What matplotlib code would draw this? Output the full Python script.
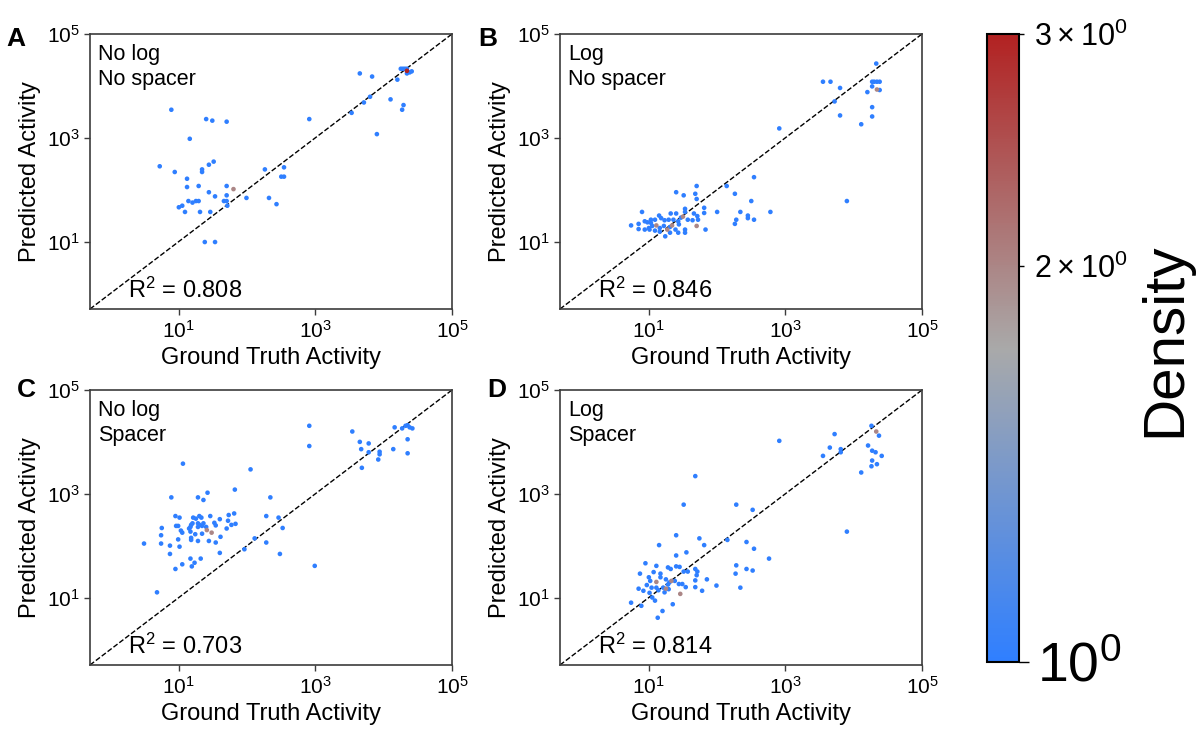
import numpy as np
import matplotlib
matplotlib.use('Agg')
import matplotlib.pyplot as plt
from matplotlib.colors import LinearSegmentedColormap, LogNorm
from matplotlib.ticker import FixedLocator, FixedFormatter, NullLocator

plt.rcParams['font.family'] = ['Liberation Sans', 'DejaVu Sans']
plt.rcParams['mathtext.fontset'] = 'custom'
plt.rcParams['mathtext.rm'] = 'Liberation Sans'
plt.rcParams['mathtext.default'] = 'regular'

# valores (log10 de la actividad)
gt_a = [3.65, 3.83, 4.20, 4.25, 4.28, 4.31, 4.34, 4.34, 4.34, 4.38, 4.41, 3.80, 3.71, 3.53, 4.10,
        4.29, 4.27, 3.90, 2.91, 0.89, 1.40, 1.49, 1.70, 1.16, 0.72, 0.94, 1.34, 1.34, 1.44, 1.51,
        1.12, 1.29, 1.12, 1.70, 1.44, 1.80, 1.53, 1.70, 1.14, 1.20, 1.25, 1.29, 1.66, 1.70, 1.71,
        1.00, 1.05, 1.09, 1.31, 1.46, 1.38, 1.53, 1.99, 2.26, 2.32, 2.43, 2.54, 2.50, 2.54]
pred_a = [4.24, 4.18, 4.12, 4.33, 4.33, 4.33, 4.33, 4.29, 4.24, 4.26, 4.28, 3.79, 3.68, 3.48, 3.74,
          3.63, 3.54, 3.07, 3.36, 3.54, 3.36, 3.33, 3.31, 2.98, 2.45, 2.34, 2.39, 2.34, 2.48, 2.54,
          2.21, 2.07, 2.05, 2.07, 1.95, 2.01, 1.87, 1.89, 1.78, 1.75, 1.78, 1.78, 1.78, 1.78, 1.69,
          1.66, 1.69, 1.57, 1.57, 1.57, 0.99, 0.99, 1.84, 2.39, 1.84, 1.72, 2.43, 2.25, 2.25]
dens_a = {7: 3.0, 35: 2.0}

gt_b = [4.33, 3.55, 3.66, 3.80, 4.27, 4.30, 4.34, 4.38, 4.27, 4.20, 4.34, 4.38, 3.72, 4.27, 3.80,
        4.27, 4.11, 2.91, 3.90, 2.54, 2.14, 2.26, 2.50, 2.78, 2.00, 2.34, 2.45, 2.45, 2.54, 2.28,
        2.26, 1.70, 1.40, 1.51, 1.68, 1.70, 1.81, 1.81, 1.53, 1.53, 0.90, 1.32, 1.40, 1.66, 1.71,
        0.74, 0.85, 0.94, 0.98, 1.03, 1.09, 1.15, 1.18, 1.23, 1.29, 1.36, 1.43, 1.47, 1.57, 1.64,
        1.72, 0.85, 0.94, 1.00, 1.05, 1.11, 1.16, 1.22, 1.27, 1.31, 1.34, 1.39, 1.44, 1.50, 1.53,
        1.70, 1.83, 1.16, 1.24, 1.31, 1.43, 1.53, 1.01, 1.09, 1.03]
pred_b = [4.43, 4.08, 4.08, 3.96, 4.08, 4.08, 4.08, 4.08, 3.99, 3.88, 3.93, 3.92, 3.70, 3.59, 3.43,
          3.41, 3.26, 3.18, 1.78, 2.24, 2.07, 1.92, 1.78, 1.57, 1.57, 1.57, 1.50, 1.45, 1.42, 1.42,
          1.34, 2.07, 1.95, 1.89, 1.92, 1.82, 1.65, 1.55, 1.63, 1.57, 1.57, 1.54, 1.54, 1.54, 1.49,
          1.31, 1.34, 1.39, 1.37, 1.36, 1.42, 1.50, 1.45, 1.41, 1.42, 1.42, 1.39, 1.46, 1.42, 1.41,
          1.42, 1.24, 1.23, 1.26, 1.30, 1.31, 1.26, 1.30, 1.23, 1.28, 1.31, 1.23, 1.33, 1.48, 1.23,
          1.30, 1.23, 1.19, 1.10, 1.17, 1.17, 1.17, 1.23, 1.21, 1.42]
dens_b = {10: 2.0, 65: 2.0, 68: 2.0, 70: 2.0, 73: 2.0, 75: 2.0}

gt_c = [2.91, 2.91, 3.54, 3.65, 3.78, 3.67, 3.78, 3.94, 3.94, 3.92, 3.68, 4.14, 4.16, 4.27, 4.32,
        4.35, 4.38, 4.42, 4.35, 4.35, 2.05, 2.34, 2.28, 2.46, 2.52, 2.28, 2.48, 2.99, 2.11, 1.96,
        1.06, 1.82, 1.42, 0.89, 1.28, 1.36, 0.49, 0.68, 0.75, 0.74, 0.74, 0.87, 0.87, 0.95, 1.05,
        1.17, 1.23, 1.19, 1.32, 0.95, 1.01, 0.96, 0.99, 1.03, 1.05, 0.99, 1.01, 1.15, 1.17, 1.18,
        1.20, 1.21, 1.25, 1.30, 1.33, 1.28, 1.30, 1.34, 1.36, 1.40, 1.41, 1.46, 1.48, 1.52, 1.54,
        1.60, 1.61, 1.70, 1.72, 1.73, 1.77, 1.81, 1.83, 1.60, 1.54, 1.44, 1.28, 1.18, 1.18, 1.24,
        1.34, 1.17, 1.28]
pred_c = [4.31, 3.92, 4.20, 4.00, 3.97, 3.86, 3.80, 3.81, 3.76, 3.66, 3.50, 3.86, 4.28, 4.26, 4.31,
          4.32, 4.28, 4.26, 4.05, 3.78, 3.47, 2.93, 2.57, 2.54, 2.34, 2.06, 1.84, 1.61, 2.14, 1.93,
          3.58, 3.08, 3.02, 2.93, 2.93, 2.88, 2.04, 1.10, 2.34, 2.20, 2.04, 2.00, 1.84, 1.55, 1.64,
          1.75, 1.67, 1.60, 1.75, 2.57, 2.54, 2.38, 2.38, 2.29, 2.25, 2.12, 1.98, 2.33, 2.36, 2.40,
          2.43, 2.54, 2.52, 2.57, 2.54, 2.43, 2.40, 2.38, 2.43, 2.36, 2.30, 2.57, 2.25, 2.44, 2.39,
          2.51, 2.17, 2.33, 2.48, 2.59, 2.40, 2.62, 2.42, 1.86, 2.06, 2.09, 2.09, 2.11, 2.15, 2.22,
          2.23, 2.27, 2.36]
dens_c = {70: 2.0, 72: 2.0}

gt_d = [4.26, 4.33, 4.37, 3.72, 2.91, 3.65, 3.81, 3.81, 3.55, 4.21, 4.27, 4.32, 4.41, 4.27, 4.34,
        4.26, 4.11, 3.90, 1.68, 1.51, 2.28, 2.52, 2.76, 2.15, 2.43, 2.54, 2.28, 2.43, 2.52, 2.27,
        2.34, 1.99, 1.85, 1.74, 1.81, 1.40, 1.15, 1.55, 1.40, 0.95, 1.11, 0.87, 1.07, 1.17, 1.28,
        1.32, 1.40, 1.45, 1.51, 1.57, 1.68, 1.71, 1.70, 1.00, 1.11, 1.17, 1.25, 1.30, 1.33, 1.38,
        1.44, 1.49, 1.54, 1.68, 1.68, 1.78, 0.85, 0.92, 1.01, 1.04, 1.11, 1.14, 1.21, 1.25, 1.29,
        1.23, 1.46, 1.28, 0.74, 0.89, 1.05, 1.09, 1.20, 1.13, 1.35, 0.97, 1.02]
pred_d = [4.31, 4.20, 4.12, 4.15, 4.02, 3.89, 3.86, 3.80, 3.73, 3.93, 3.83, 3.80, 3.73, 3.64, 3.57,
          3.53, 3.41, 2.27, 3.34, 2.79, 2.79, 2.69, 1.75, 2.11, 2.07, 1.94, 1.62, 1.55, 1.52, 1.46,
          1.19, 1.23, 1.35, 2.14, 2.01, 2.20, 2.01, 1.87, 1.81, 1.66, 1.61, 1.46, 1.49, 1.46, 1.58,
          1.55, 1.60, 1.59, 1.50, 1.50, 1.55, 1.50, 1.43, 1.39, 1.30, 1.39, 1.35, 1.29, 1.32, 1.32,
          1.26, 1.26, 1.20, 1.33, 1.20, 1.13, 1.17, 1.13, 1.09, 1.19, 1.19, 1.14, 1.19, 1.17, 1.16,
          1.10, 1.07, 1.25, 0.90, 0.84, 1.00, 0.94, 0.74, 0.61, 0.87, 1.24, 1.32]
dens_d = {1: 2.0, 54: 2.0, 58: 2.0, 73: 2.0, 76: 2.0}

letras = ['A', 'B', 'C', 'D']
notas = ['No log\nNo spacer', 'Log\nNo spacer', 'No log\nSpacer', 'Log\nSpacer']
r2 = ['0.808', '0.846', '0.703', '0.814']
ticks = [1e1, 1e3, 1e5]
lims = [0.5, 1e5]
cbar_minor = [2, 3]
cbar_minor_labels = [r'$\mathdefault{2\times10^{0}}$', r'$\mathdefault{3\times10^{0}}$']

datos = [(gt_a, pred_a, dens_a), (gt_b, pred_b, dens_b),
         (gt_c, pred_c, dens_c), (gt_d, pred_d, dens_d)]

# posiciones de los ejes en pixeles (izq, abajo) de una figura de 1198x732
W, H = 1198.0, 732.0
pos = [(90, 309), (560, 309), (90, 665), (560, 665)]
letra_pos = [(6, 46), (478, 46), (17, 397), (487, 397)]

cmap = LinearSegmentedColormap.from_list('dens', ['#2f7fff', '#a9a9a9', '#b22222'])
norm = LogNorm(vmin=1, vmax=3)
marco = '#3c3c3c'

fig = plt.figure(figsize=(W / 100, H / 100), dpi=100)

for i in range(4):
    gx, py, dd = datos[i]
    x = 10 ** np.array(gx)
    y = 10 ** np.array(py)
    d = np.ones(len(x))
    for k, v in dd.items():
        d[k] = v
    orden = np.argsort(d, kind='stable')  # los mas densos encima

    ax = fig.add_axes([pos[i][0] / W, 1 - pos[i][1] / H, 362 / W, 275 / H])
    ax.plot(lims, lims, 'k--', lw=1, zorder=1)
    sc = ax.scatter(x[orden], y[orden], c=d[orden], cmap=cmap, norm=norm,
                    s=11, linewidths=0, zorder=2)
    ax.set_xscale('log')
    ax.set_yscale('log')
    ax.set_xlim(lims)
    ax.set_ylim(lims)
    ax.set_xticks(ticks)
    ax.set_yticks(ticks)
    ax.xaxis.set_minor_locator(NullLocator())
    ax.yaxis.set_minor_locator(NullLocator())
    ax.tick_params(labelsize=15, length=4, width=1, color=marco)
    for s in ax.spines.values():
        s.set_color(marco)
        s.set_linewidth(1.2)
    ax.set_xlabel('Ground Truth Activity', fontsize=17)
    ax.set_ylabel('Predicted Activity', fontsize=17)
    ax.text(0.022, 0.963, notas[i], transform=ax.transAxes, fontsize=15.5,
            va='top', ha='left', linespacing=1.25)
    ax.text(0.105, 0.04, 'R$^{2}$ = ' + r2[i], transform=ax.transAxes,
            fontsize=17, va='baseline', ha='left')
    fig.text(letra_pos[i][0] / W, 1 - letra_pos[i][1] / H, letras[i],
             fontsize=19, fontweight='bold', va='baseline', ha='left')

# barra de color
cax = fig.add_axes([987 / W, 1 - 662 / H, 32 / W, 628 / H])
cb = fig.colorbar(sc, cax=cax)
cb.ax.yaxis.set_major_locator(FixedLocator([1]))
cb.ax.yaxis.set_minor_locator(FixedLocator(cbar_minor))
cb.ax.yaxis.set_minor_formatter(FixedFormatter(cbar_minor_labels))
cb.ax.tick_params(which='major', labelsize=40, length=7, width=1, pad=6)
cb.ax.tick_params(which='minor', labelsize=22, length=3.5, width=1, pad=7)
cb.outline.set_linewidth(1.5)
cb.set_label('Density', fontsize=42, labelpad=8)
cb.ax.yaxis.label.set_y(0.513)

fig.savefig('out.png', dpi=100)
